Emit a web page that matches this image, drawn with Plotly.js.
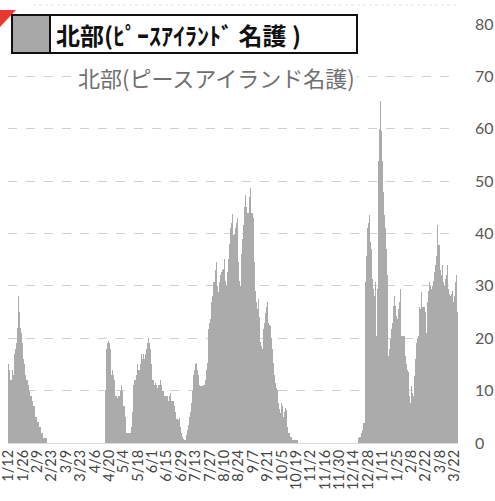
<!DOCTYPE html>
<html>
<head>
<meta charset="utf-8">
<script src="https://cdn.plot.ly/plotly-3.0.1.min.js"></script>
<style>html,body{margin:0;padding:0;background:#fff;}#chart{width:495px;height:501px;}</style>
</head>
<body>
<div id="chart"></div>
<script>
// Tick labels (every 14 days, starting 1/12)
const tickLabels = ["1/12","1/26","2/9","2/23","3/9","3/23","4/6","4/20","5/4","5/18","6/1","6/15","6/29","7/13","7/27","8/10","8/24","9/7","9/21","10/5","10/19","11/2","11/16","11/30","12/14","12/28","1/11","1/25","2/8","2/22","3/8","3/22"];
const tickStepDays = 14;

// Daily values, in blocks (consecutive days from 1/12)
const wave1 = [15,14,12,12,14,13,17,18,19,22,28,25,22,21,19,16,15,13,12,11,10,9,9,8,7,7,5,5,4,4,3,3,2,2,1,1,1,1,0];
const gap1 = [0,0,0,0,0,0,0,0,0,0,0,0,0,0,0,0,0,0,0,0,0,0,0,0,0,0,0,0,0,0,0,0,0,0,0,0,0,0,0,0,0,0,0,0,0,0,0,0,0,0,0,0,0,0,0];
const wave2 = [10,18,19,19.5,19,18,13,14,13,12,9,9,8.5,9,9,10,11,10,7,7,5,2,2,2,2,2,3,6,11,12,12,13,15,14,15,17,16,17,16,17,18,19,20,19,18,15,12,12,11,11.5,11,10.5,11,11,12,11,10,10,9,9,9,9,8,9,9.5,8,8,8,7,6,4.5,4.4,4.7,3,2,1.2,0.8,0.6,0.6,1.5,2.5,3.5,5,6,7.6,10,13,14,15,15.3,14,13,11,10.8,10.8,10.8,11,11,12,14,15.3,21.7,23,23.7,27,28,30.7,33,34.6,30,28.8,30.7,32,32.6,33,33.3,35.2,31,30,32.6,35.2,38,41,42,43.8,39.7,40,41,42,42.9,34.6,31,30,36,39,41.6,45,47.4,45,44,44,47,48.7,44,42.9,34.6,29,26.9,25.6,27.5,24,19.2,18.5,17.9,21.7,23,24.9,26,26.9,23,22.5,22.4,20,17.9,15.3,13,11.5,10.5,10.2,7.6,6.5,5.7,7.6,7,5,6,6.7,6.3,3,1.9,1.2,1.2,0.6,0.6,0.6,0.6,0.6,0.6];
const gap2 = [0,0,0,0,0,0,0,0,0,0,0,0,0,0,0,0,0,0,0,0,0,0,0,0,0,0,0,0,0,0,0,0,0,0,0,0,0,0,0,0,0,0,0,0,0,0,0,0,0,0,0,0,0,0,0,0,0,0,0];
const wave3 = [1,1.2,1.2,2,2.5,3.8,30.7,35.8,41,42,43.5,38.4,37,31.3,29.4,28,30.7,20.4,29.4,53.8,60,65.3,59.6,53.8,48,43.5,41,37,32,16.6,17.9,19.8,21.7,23,26.2,28,26.2,24.3,23.7,25.6,26.9,29.4,20.4,20.4,20.4,16.6,15,14,13.5,9,7.6,10.8,9.5,9,12.7,16,19,20,20.4,26,25.6,28.8,26,26,26,25,21,27,29,30.7,30,29.4,30,31,32.6,34,35.8,41.6,37.8,33,32,34,30.7,30,31.3,32,34,29.4,28.5,28,28.5,29,27,28,30.7,32,25];

const values = [].concat(wave1, gap1, wave2, gap2, wave3);
const days = values.map((v, i) => i);
const tickVals = tickLabels.map((t, k) => k * tickStepDays);

const W = 495, H = 501;
const M = {l: 8, r: 37, t: 24, b: 58};
const pw = W - M.l - M.r, ph = H - M.t - M.b;
const px = x => (x - M.l) / pw;
const py = y => (H - M.b - y) / ph;

const trace = {
  type: 'bar',
  x: days,
  y: values,
  marker: {color: '#ababab', line: {width: 0}},
  hoverinfo: 'skip'
};

const layout = {
  width: W, height: H,
  margin: M,
  paper_bgcolor: '#ffffff',
  plot_bgcolor: '#ffffff',
  bargap: 0,
  showlegend: false,
  xaxis: {
    range: [-0.5, values.length - 0.5],
    tickmode: 'array',
    tickvals: tickVals,
    ticktext: tickLabels,
    tickangle: -90,
    ticklabeloverflow: 'allow',
    ticklabelstandoff: 3,
    tickfont: {family: 'Lato, "Liberation Sans", sans-serif', size: 14.5, color: '#454545'},
    showgrid: false, zeroline: false, showline: false, ticks: ''
  },
  yaxis: {
    side: 'right',
    range: [0, 80],
    dtick: 10,
    tick0: 0,
    showgrid: true,
    gridcolor: '#cfcfcf',
    griddash: 'dash',
    gridwidth: 1,
    zeroline: true,
    zerolinecolor: '#dddddd',
    zerolinewidth: 1,
    showline: false,
    ticks: '',
    ticklabelstandoff: 16,
    tickfont: {family: 'Lato, "Liberation Sans", sans-serif', size: 16, color: '#595959'}
  },
  shapes: [
    {type: 'line', xref: 'paper', yref: 'paper', x0: px(33), x1: px(457), y0: py(5), y1: py(5),
     line: {color: '#e4e4e4', width: 1, dash: 'dot'}, layer: 'above'},
    {type: 'path', xref: 'paper', yref: 'paper',
     path: 'M ' + px(0) + ',' + py(10) + ' L ' + px(16) + ',' + py(10) + ' L ' + px(0) + ',' + py(27) + ' Z',
     fillcolor: '#e53a2f', line: {width: 0}, layer: 'above'},
    {type: 'rect', xref: 'paper', yref: 'paper', x0: px(12), x1: px(357), y0: py(53), y1: py(15),
     fillcolor: '#ffffff', line: {color: '#111111', width: 2}, layer: 'above'},
    {type: 'rect', xref: 'paper', yref: 'paper', x0: px(12), x1: px(50), y0: py(53), y1: py(15),
     fillcolor: '#a8a8a8', line: {color: '#111111', width: 2}, layer: 'above'}
  ],
  annotations: [
    {xref: 'paper', yref: 'paper', x: px(54), y: py(34), xanchor: 'left', yanchor: 'middle',
     text: '北部(ﾋﾟｰｽｱｲﾗﾝﾄﾞ 名護 )', showarrow: false,
     font: {family: '"Noto Sans CJK JP", sans-serif', size: 24, color: '#111111', weight: 'bold'}},
    {xref: 'paper', yref: 'paper', x: px(216), y: py(77), xanchor: 'center', yanchor: 'middle',
     text: '北部(ピースアイランド名護)', showarrow: false, bgcolor: '#ffffff',
     font: {family: '"Noto Sans CJK JP", sans-serif', size: 22, color: '#707070'}}
  ]
};

Plotly.newPlot('chart', [trace], layout, {displayModeBar: false, staticPlot: true});
</script>
</body>
</html>
